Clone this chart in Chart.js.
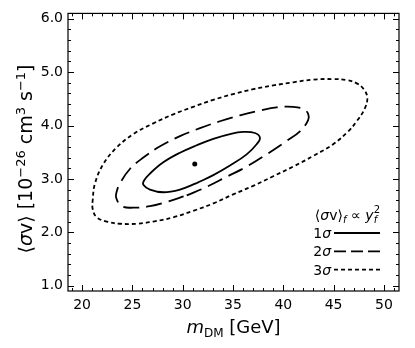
<!DOCTYPE html>
<html>
<head>
<meta charset="utf-8">
<script src="https://cdn.jsdelivr.net/npm/chart.js@4.4.1/dist/chart.umd.min.js"></script>
<style>
  html, body { margin: 0; padding: 0; background: #fff; }
  #wrap { width: 415px; height: 348px; position: relative; }
</style>
</head>
<body>
<div id="wrap"><canvas id="chart"></canvas></div>
<script>
// --- values ---
const xTickValues = [20, 25, 30, 35, 40, 45, 50];
const yTickValues = [1, 2, 3, 4, 5, 6];

const bestFitX = [31.2];
const bestFitY = [3.28];

// 1 sigma contour (solid)
const sigma1X = [31.39, 33.04, 34.70, 36.36, 37.35, 37.68, 37.18, 36.02, 34.70, 33.04, 31.39, 29.73, 28.07, 26.75, 26.16, 26.09, 26.75, 28.07, 29.73, 31.39];
const sigma1Y = [2.92, 3.07, 3.25, 3.46, 3.65, 3.77, 3.86, 3.88, 3.84, 3.75, 3.63, 3.49, 3.31, 3.10, 2.97, 2.89, 2.80, 2.75, 2.80, 2.92];

// 2 sigma contour (dashed)
const sigma2X = [30.40, 32.38, 34.37, 36.36, 38.34, 40.33, 41.65, 42.47, 42.47, 41.98, 40.98, 39.33, 37.68, 35.69, 33.70, 31.72, 29.73, 27.75, 26.09, 24.77, 23.77, 23.45, 23.38, 23.94, 25.09, 26.75, 28.41, 30.40];
const sigma2Y = [2.69, 2.85, 3.04, 3.23, 3.46, 3.71, 3.89, 4.10, 4.22, 4.31, 4.35, 4.34, 4.28, 4.19, 4.08, 3.95, 3.80, 3.61, 3.40, 3.19, 2.92, 2.77, 2.65, 2.49, 2.46, 2.49, 2.57, 2.69];

// 3 sigma contour (dotted)
const sigma3X = [31.05, 33.04, 35.02, 37.01, 39.00, 40.98, 42.97, 44.96, 46.40, 47.30, 48.10, 48.35, 48.00, 47.30, 46.30, 44.96, 42.97, 40.98, 39.00, 37.01, 35.02, 33.04, 31.05, 29.07, 27.08, 25.09, 23.45, 22.12, 21.29, 21.06, 21.06, 21.46, 22.45, 23.77, 25.43, 27.08, 29.07, 31.05];
const sigma3Y = [2.40, 2.54, 2.71, 2.87, 3.05, 3.23, 3.43, 3.65, 3.88, 4.08, 4.32, 4.52, 4.68, 4.79, 4.85, 4.87, 4.86, 4.81, 4.75, 4.68, 4.59, 4.48, 4.35, 4.21, 4.04, 3.84, 3.59, 3.28, 2.92, 2.61, 2.43, 2.28, 2.20, 2.16, 2.16, 2.20, 2.28, 2.40];

const FONT = "'DejaVu Sans', sans-serif";

function toPoints(xs, ys) {
  return xs.map((x, i) => ({ x, y: ys[i] }));
}

// --- small helper for text with sub/superscripts ---
function fontFor(s) {
  return (s.italic ? 'italic ' : '') + s.size + 'px ' + FONT;
}
function layoutRich(ctx, segs) {
  let x = 0, lastStart = 0;
  const items = segs.map(s => {
    ctx.font = fontFor(s);
    const w = ctx.measureText(s.text).width;
    let start;
    if (s.stack) { start = lastStart; x = Math.max(x, start + w); }
    else { start = x; x += w; }
    lastStart = start;
    return { ...s, start };
  });
  return { items, width: x };
}
function drawRich(ctx, segs, x, y, align) {
  const lay = layoutRich(ctx, segs);
  const x0 = align === 'center' ? x - lay.width / 2 : align === 'right' ? x - lay.width : x;
  ctx.textAlign = 'left';
  ctx.textBaseline = 'alphabetic';
  ctx.fillStyle = '#000';
  lay.items.forEach(s => {
    ctx.font = fontFor(s);
    ctx.fillText(s.text, x0 + s.start, y + (s.dy || 0));
  });
}

// frame with inward ticks on all four sides
const framePlugin = {
  id: 'frame',
  afterDraw(chart) {
    const { ctx, chartArea: a, scales: { x, y } } = chart;
    ctx.save();
    ctx.strokeStyle = '#000';
    ctx.lineWidth = 1.2;
    ctx.strokeRect(a.left, a.top, a.right - a.left, a.bottom - a.top);
    ctx.lineWidth = 1;
    ctx.beginPath();
    for (let v = Math.ceil(x.min); v <= x.max; v++) {
      const len = xTickValues.includes(v) ? 6 : 3;
      const px = Math.round(x.getPixelForValue(v)) + 0.5;
      ctx.moveTo(px, a.bottom); ctx.lineTo(px, a.bottom - len);
      ctx.moveTo(px, a.top); ctx.lineTo(px, a.top + len);
    }
    for (let k = Math.ceil(y.min * 5); k <= Math.floor(y.max * 5); k++) {
      const len = k % 5 === 0 ? 6 : 3;
      const py = Math.round(y.getPixelForValue(k / 5)) + 0.5;
      ctx.moveTo(a.left, py); ctx.lineTo(a.left + len, py);
      ctx.moveTo(a.right, py); ctx.lineTo(a.right - len, py);
    }
    ctx.stroke();

    // axis titles
    drawRich(ctx, [
      { text: 'm', size: 18, italic: true },
      { text: 'DM', size: 12, dy: 4 },
      { text: ' [GeV]', size: 18 }
    ], (a.left + a.right) / 2, 333, 'center');

    ctx.save();
    ctx.translate(32, 159);
    ctx.rotate(-Math.PI / 2);
    drawRich(ctx, [
      { text: '\u27E8', size: 19 },
      { text: '\u03C3', size: 19, italic: true },
      { text: 'v\u27E9 [10', size: 19 },
      { text: '\u221226', size: 13, dy: -7 },
      { text: ' cm', size: 19 },
      { text: '3', size: 13, dy: -7 },
      { text: ' s', size: 19 },
      { text: '\u22121', size: 13, dy: -7 },
      { text: ']', size: 19 }
    ], 0, 0, 'center');
    ctx.restore();
    ctx.restore();
  }
};

// legend in the lower right corner
const legendPlugin = {
  id: 'contourLegend',
  afterDraw(chart) {
    const ctx = chart.ctx;
    ctx.save();
    drawRich(ctx, [
      { text: '\u27E8', size: 14 },
      { text: '\u03C3', size: 14, italic: true },
      { text: 'v\u27E9', size: 14 },
      { text: 'f', size: 10, italic: true, dy: 3 },
      { text: ' \u221D ', size: 14 },
      { text: 'y', size: 14, italic: true },
      { text: 'f', size: 10, italic: true, dy: 3 },
      { text: '2', size: 10, dy: -7, stack: true }
    ], 380, 220, 'right');

    const rows = [
      { n: '1', dash: [] },
      { n: '2', dash: [12, 5] },
      { n: '3', dash: [4, 3] }
    ];
    rows.forEach((r, i) => {
      const cy = 233 + i * 18.3;
      drawRich(ctx, [
        { text: r.n, size: 14 },
        { text: '\u03C3', size: 14, italic: true }
      ], 331, cy + 5, 'right');
      ctx.strokeStyle = '#000';
      ctx.lineWidth = 1.8;
      ctx.setLineDash(r.dash);
      ctx.beginPath();
      ctx.moveTo(334, cy);
      ctx.lineTo(380, cy);
      ctx.stroke();
    });
    ctx.restore();
  }
};

const lineStyle = {
  showLine: true,
  borderColor: '#000',
  borderWidth: 1.8,
  pointRadius: 0,
  tension: 0.4,
  fill: false
};

new Chart(document.getElementById('chart'), {
  type: 'scatter',
  data: {
    datasets: [
      { label: '1\u03C3', data: toPoints(sigma1X, sigma1Y), ...lineStyle },
      { label: '2\u03C3', data: toPoints(sigma2X, sigma2Y), ...lineStyle, borderDash: [16, 7] },
      { label: '3\u03C3', data: toPoints(sigma3X, sigma3Y), ...lineStyle, borderDash: [4, 3] },
      { label: 'best fit', data: toPoints(bestFitX, bestFitY), pointRadius: 2.5, backgroundColor: '#000', borderWidth: 0 }
    ]
  },
  options: {
    responsive: true,
    maintainAspectRatio: false,
    animation: false,
    layout: { padding: { left: 0, right: 16, top: 5, bottom: 0 } },
    plugins: { legend: { display: false }, tooltip: { enabled: false } },
    scales: {
      x: {
        type: 'linear', min: 18.6, max: 51.5,
        afterBuildTicks: s => { s.ticks = xTickValues.map(v => ({ value: v })); },
        afterFit: s => { s.height = 57; },
        grid: { display: false, drawTicks: false },
        border: { display: false },
        ticks: { padding: 6, color: '#000', font: { family: FONT, size: 14 }, maxRotation: 0, autoSkip: false }
      },
      y: {
        type: 'linear', min: 0.9, max: 6.1,
        afterBuildTicks: s => { s.ticks = yTickValues.map(v => ({ value: v })); },
        afterFit: s => { s.width = 68; },
        grid: { display: false, drawTicks: false },
        border: { display: false },
        ticks: { padding: 5, color: '#000', font: { family: FONT, size: 14 }, autoSkip: false, callback: v => v.toFixed(1) }
      }
    }
  },
  plugins: [framePlugin, legendPlugin]
});
</script>
</body>
</html>
